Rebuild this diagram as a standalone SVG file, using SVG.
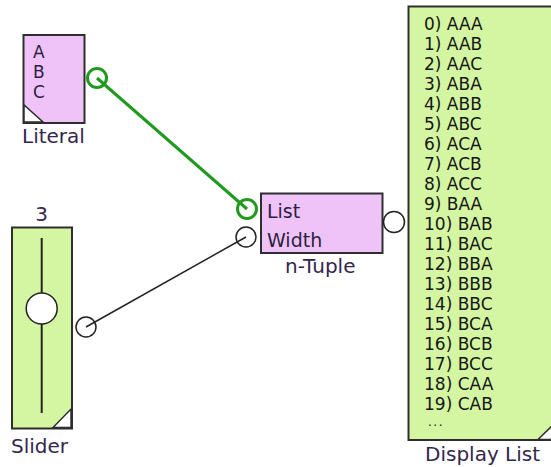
<svg xmlns="http://www.w3.org/2000/svg" width="551" height="467" viewBox="0 0 551 467">
<style>
.pink{fill:#F0C3F8;stroke:#2e2e2e;stroke-width:2}
.green{fill:#D4F6A2;stroke:#2e2e2e;stroke-width:2}
.corner{fill:#ffffff;stroke:#2e2e2e;stroke-width:1.5}
.lbl{font-family:"DejaVu Sans",Verdana,sans-serif;font-size:20px;fill:#35264d}
.in{font-family:"DejaVu Sans",Verdana,sans-serif;font-size:19px;fill:#2a1f40}
.abc{font-family:"DejaVu Sans",Verdana,sans-serif;font-size:17px;fill:#2a1f40}
.item{font-family:"DejaVu Sans",Verdana,sans-serif;font-size:17px;fill:#151515}
.port{fill:#ffffff;stroke:#222;stroke-width:1.5}
.gport{fill:#ffffff;stroke:#1f9a1f;stroke-width:3}
.wire{stroke:#222;stroke-width:1.5;fill:none}
.gwire{stroke:#1f9a1f;stroke-width:3;fill:none}
</style>

<g id="literal">
  <rect class="pink" x="23.5" y="35" width="61" height="88"/>
  <polygon class="corner" points="24,105 24,122 43,122"/>
  <text class="abc" x="33" y="58">A</text>
  <text class="abc" x="33" y="78">B</text>
  <text class="abc" x="33" y="98">C</text>
  <circle class="gport" cx="97" cy="78" r="9.5"/>
  <text class="lbl" x="22" y="143">Literal</text>
</g>

<g id="slider">
  <rect class="green" x="12" y="227.5" width="60" height="201"/>
  <polygon class="corner" points="71,409 71,427.5 53,427.5"/>
  <line x1="41.7" y1="238" x2="41.7" y2="413" stroke="#222" stroke-width="2"/>
  <circle cx="41.7" cy="308.5" r="15.5" fill="#fff" stroke="#222" stroke-width="1.5"/>
  <text class="lbl" x="41.7" y="221" text-anchor="middle">3</text>
  <circle class="port" cx="86" cy="327" r="10"/>
  <text class="lbl" x="11" y="453">Slider</text>
</g>

<g id="ntuple">
  <rect class="pink" x="261" y="193.5" width="121.5" height="59.5"/>
  <text class="in" x="267" y="218">List</text>
  <text class="in" x="267" y="247">Width</text>
  <circle class="gport" cx="247" cy="209" r="9.5"/>
  <circle class="port" cx="246" cy="237" r="10"/>
  <circle class="port" cx="394" cy="222" r="10.5"/>
  <text class="lbl" x="285" y="273">n-Tuple</text>
</g>

<g id="displaylist">
  <rect class="green" x="408.5" y="6.5" width="150" height="433.5"/>
  <polygon class="corner" points="557,421 557,439.5 538,439.5"/>
  <text class="item" x="424" y="30">0) AAA</text>
  <text class="item" x="424" y="50">1) AAB</text>
  <text class="item" x="424" y="70">2) AAC</text>
  <text class="item" x="424" y="90">3) ABA</text>
  <text class="item" x="424" y="110">4) ABB</text>
  <text class="item" x="424" y="130">5) ABC</text>
  <text class="item" x="424" y="150">6) ACA</text>
  <text class="item" x="424" y="170">7) ACB</text>
  <text class="item" x="424" y="190">8) ACC</text>
  <text class="item" x="424" y="210">9) BAA</text>
  <text class="item" x="424" y="230">10) BAB</text>
  <text class="item" x="424" y="250">11) BAC</text>
  <text class="item" x="424" y="270">12) BBA</text>
  <text class="item" x="424" y="290">13) BBB</text>
  <text class="item" x="424" y="310">14) BBC</text>
  <text class="item" x="424" y="330">15) BCA</text>
  <text class="item" x="424" y="350">16) BCB</text>
  <text class="item" x="424" y="370">17) BCC</text>
  <text class="item" x="424" y="390">18) CAA</text>
  <text class="item" x="424" y="410">19) CAB</text>
  <text class="item" x="428" y="426" style="font-size:12px;letter-spacing:1.5px">...</text>
  <text class="lbl" x="425" y="461">Display List</text>
</g>

<g id="connectors">
  <line class="gwire" x1="97" y1="78" x2="247" y2="209"/>
  <line class="wire" x1="86" y1="327" x2="246" y2="237"/>
</g>
</svg>
